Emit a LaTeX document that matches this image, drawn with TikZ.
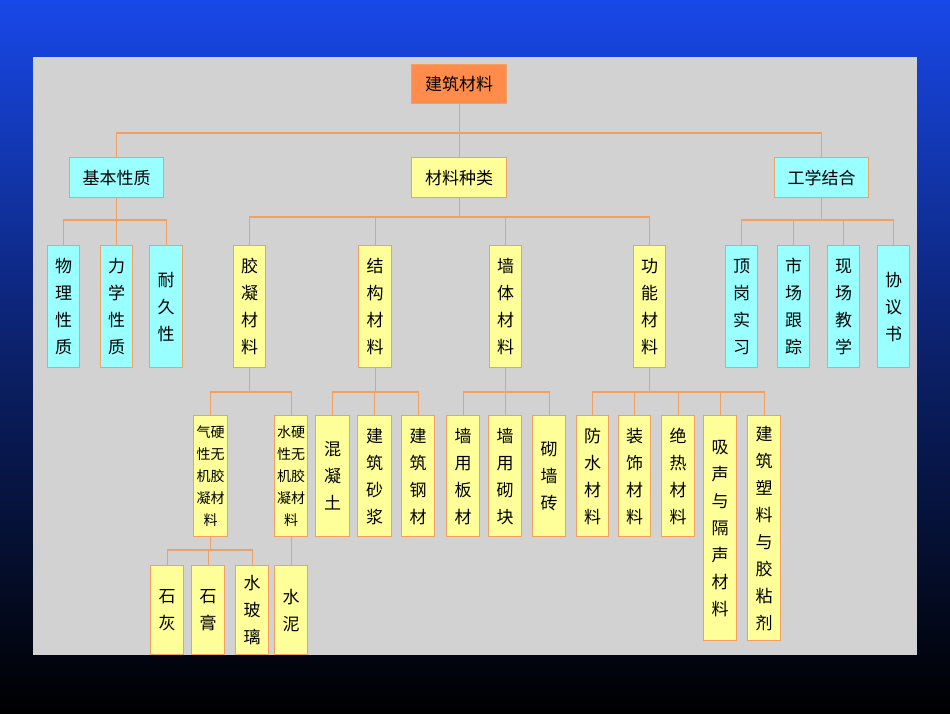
\documentclass[tikz,border=0pt]{standalone}
\usepackage{fontspec}
\setmainfont{Noto Sans CJK SC}
\definecolor{lc}{HTML}{F0A060}
\definecolor{cyn}{HTML}{99FFFF}
\definecolor{yel}{HTML}{FFFF99}
\definecolor{org}{HTML}{FF8C4A}
\definecolor{bl}{HTML}{1848E8}
\begin{document}
\begin{tikzpicture}[x=1pt,y=-1pt,
  bx/.style={draw=lc,line width=1.3pt,inner sep=0pt,align=center,font=\fontsize{17}{27}\selectfont,anchor=north west},
  cy/.style={bx,fill=cyn},
  ye/.style={bx,fill=yel},
  ln/.style={draw=lc,line width=1.3pt}]
\shade[top color=bl,bottom color=black,middle color=bl!45!black] (0,0) rectangle (950,713);
\useasboundingbox (0,0) rectangle (950,713);
\fill[gray!35] (33,57) rectangle (917,655);
\def\bxn#1#2#3#4#5#6#7{\node[#2,minimum width=#5-#3,minimum height=#6-#4,text width=#5-#3] (#1) at (#3,#4) {#7};}
\bxn{root}{bx,fill=org}{411}{64}{506}{103}{建筑材料}
\bxn{a}{cy}{69}{157}{163}{197}{基本性质}
\bxn{b}{ye}{411}{157}{506}{197}{材料种类}
\bxn{c}{cy}{774}{157}{868}{197}{工学结合}
% level 2
\bxn{a1}{cy}{47}{245}{79}{367}{物\\理\\性\\质}
\bxn{a2}{cy}{100}{245}{132}{367}{力\\学\\性\\质}
\bxn{a3}{cy}{149}{245}{182}{367}{耐\\久\\性\\[27pt]}
\bxn{b1}{ye}{233}{245}{265}{367}{胶\\凝\\材\\料}
\bxn{b2}{ye}{358}{245}{391}{367}{结\\构\\材\\料}
\bxn{b3}{ye}{489}{245}{521}{367}{墙\\体\\材\\料}
\bxn{b4}{ye}{633}{245}{665}{367}{功\\能\\材\\料}
\bxn{c1}{cy}{725}{245}{757}{367}{顶\\岗\\实\\习}
\bxn{c2}{cy}{777}{245}{809}{367}{市\\场\\跟\\踪}
\bxn{c3}{cy}{827}{245}{859}{367}{现\\场\\教\\学}
\bxn{c4}{cy}{877}{245}{909}{367}{协\\议\\书\\[27pt]}
% level 3
\tikzset{sm/.style={font=\fontsize{14}{22}\selectfont}}
\bxn{g1}{ye,sm}{193}{415}{227}{536}{气硬\\性无\\机胶\\凝材\\料}
\bxn{g2}{ye,sm}{274}{415}{307}{536}{水硬\\性无\\机胶\\凝材\\料}
\bxn{s1}{ye}{315}{415}{349}{536}{混\\凝\\土\\[40pt]}
\bxn{s2}{ye}{357}{415}{391}{536}{建\\筑\\砂\\浆}
\bxn{s3}{ye}{401}{415}{434}{536}{建\\筑\\钢\\材}
\bxn{w1}{ye}{446}{415}{479}{536}{墙\\用\\板\\材}
\bxn{w2}{ye}{488}{415}{521}{536}{墙\\用\\砌\\块}
\bxn{w3}{ye}{532}{415}{565}{536}{砌\\墙\\砖\\[40pt]}
\bxn{f1}{ye}{576}{415}{608}{536}{防\\水\\材\\料}
\bxn{f2}{ye}{618}{415}{650}{536}{装\\饰\\材\\料}
\bxn{f3}{ye}{661}{415}{694}{536}{绝\\热\\材\\料}
\bxn{f4}{ye}{703}{415}{736}{640}{吸\\声\\与\\隔\\声\\材\\料\\[27pt]}
\bxn{f5}{ye}{747}{415}{780}{640}{建\\筑\\塑\\料\\与\\胶\\粘\\剂}
% level 4
\bxn{h1}{ye}{150}{565}{183}{654}{石\\灰\\[27pt]}
\bxn{h2}{ye}{191}{565}{224}{654}{石\\膏\\[27pt]}
\bxn{h3}{ye}{235}{565}{268}{654}{水\\玻\\璃}
\bxn{h4}{ye}{274}{565}{307}{654}{水\\泥\\[27pt]}
% connectors
\def\busy#1#2#3{\coordinate (bb) at (0,#2); \draw[ln] (#1.south) -- (#1.south |- bb);
  \foreach \k in {#3} {\draw[ln] (\k.north) -- (\k.north |- bb) -| (#1.south |- bb);}}
\busy{root}{133}{a,b,c}
\busy{a}{220}{a1,a2,a3}
\busy{b}{217}{b1,b2,b3,b4}
\busy{c}{220}{c1,c2,c3,c4}
\busy{b1}{392}{g1,g2}
\busy{b2}{392}{s1,s2,s3}
\busy{b3}{392}{w1,w2,w3}
\busy{b4}{392}{f1,f2,f3,f4,f5}
\busy{g1}{550}{h1,h2,h3}
\draw[ln] (g2.south) -- (h4.north);
\end{tikzpicture}
\end{document}
